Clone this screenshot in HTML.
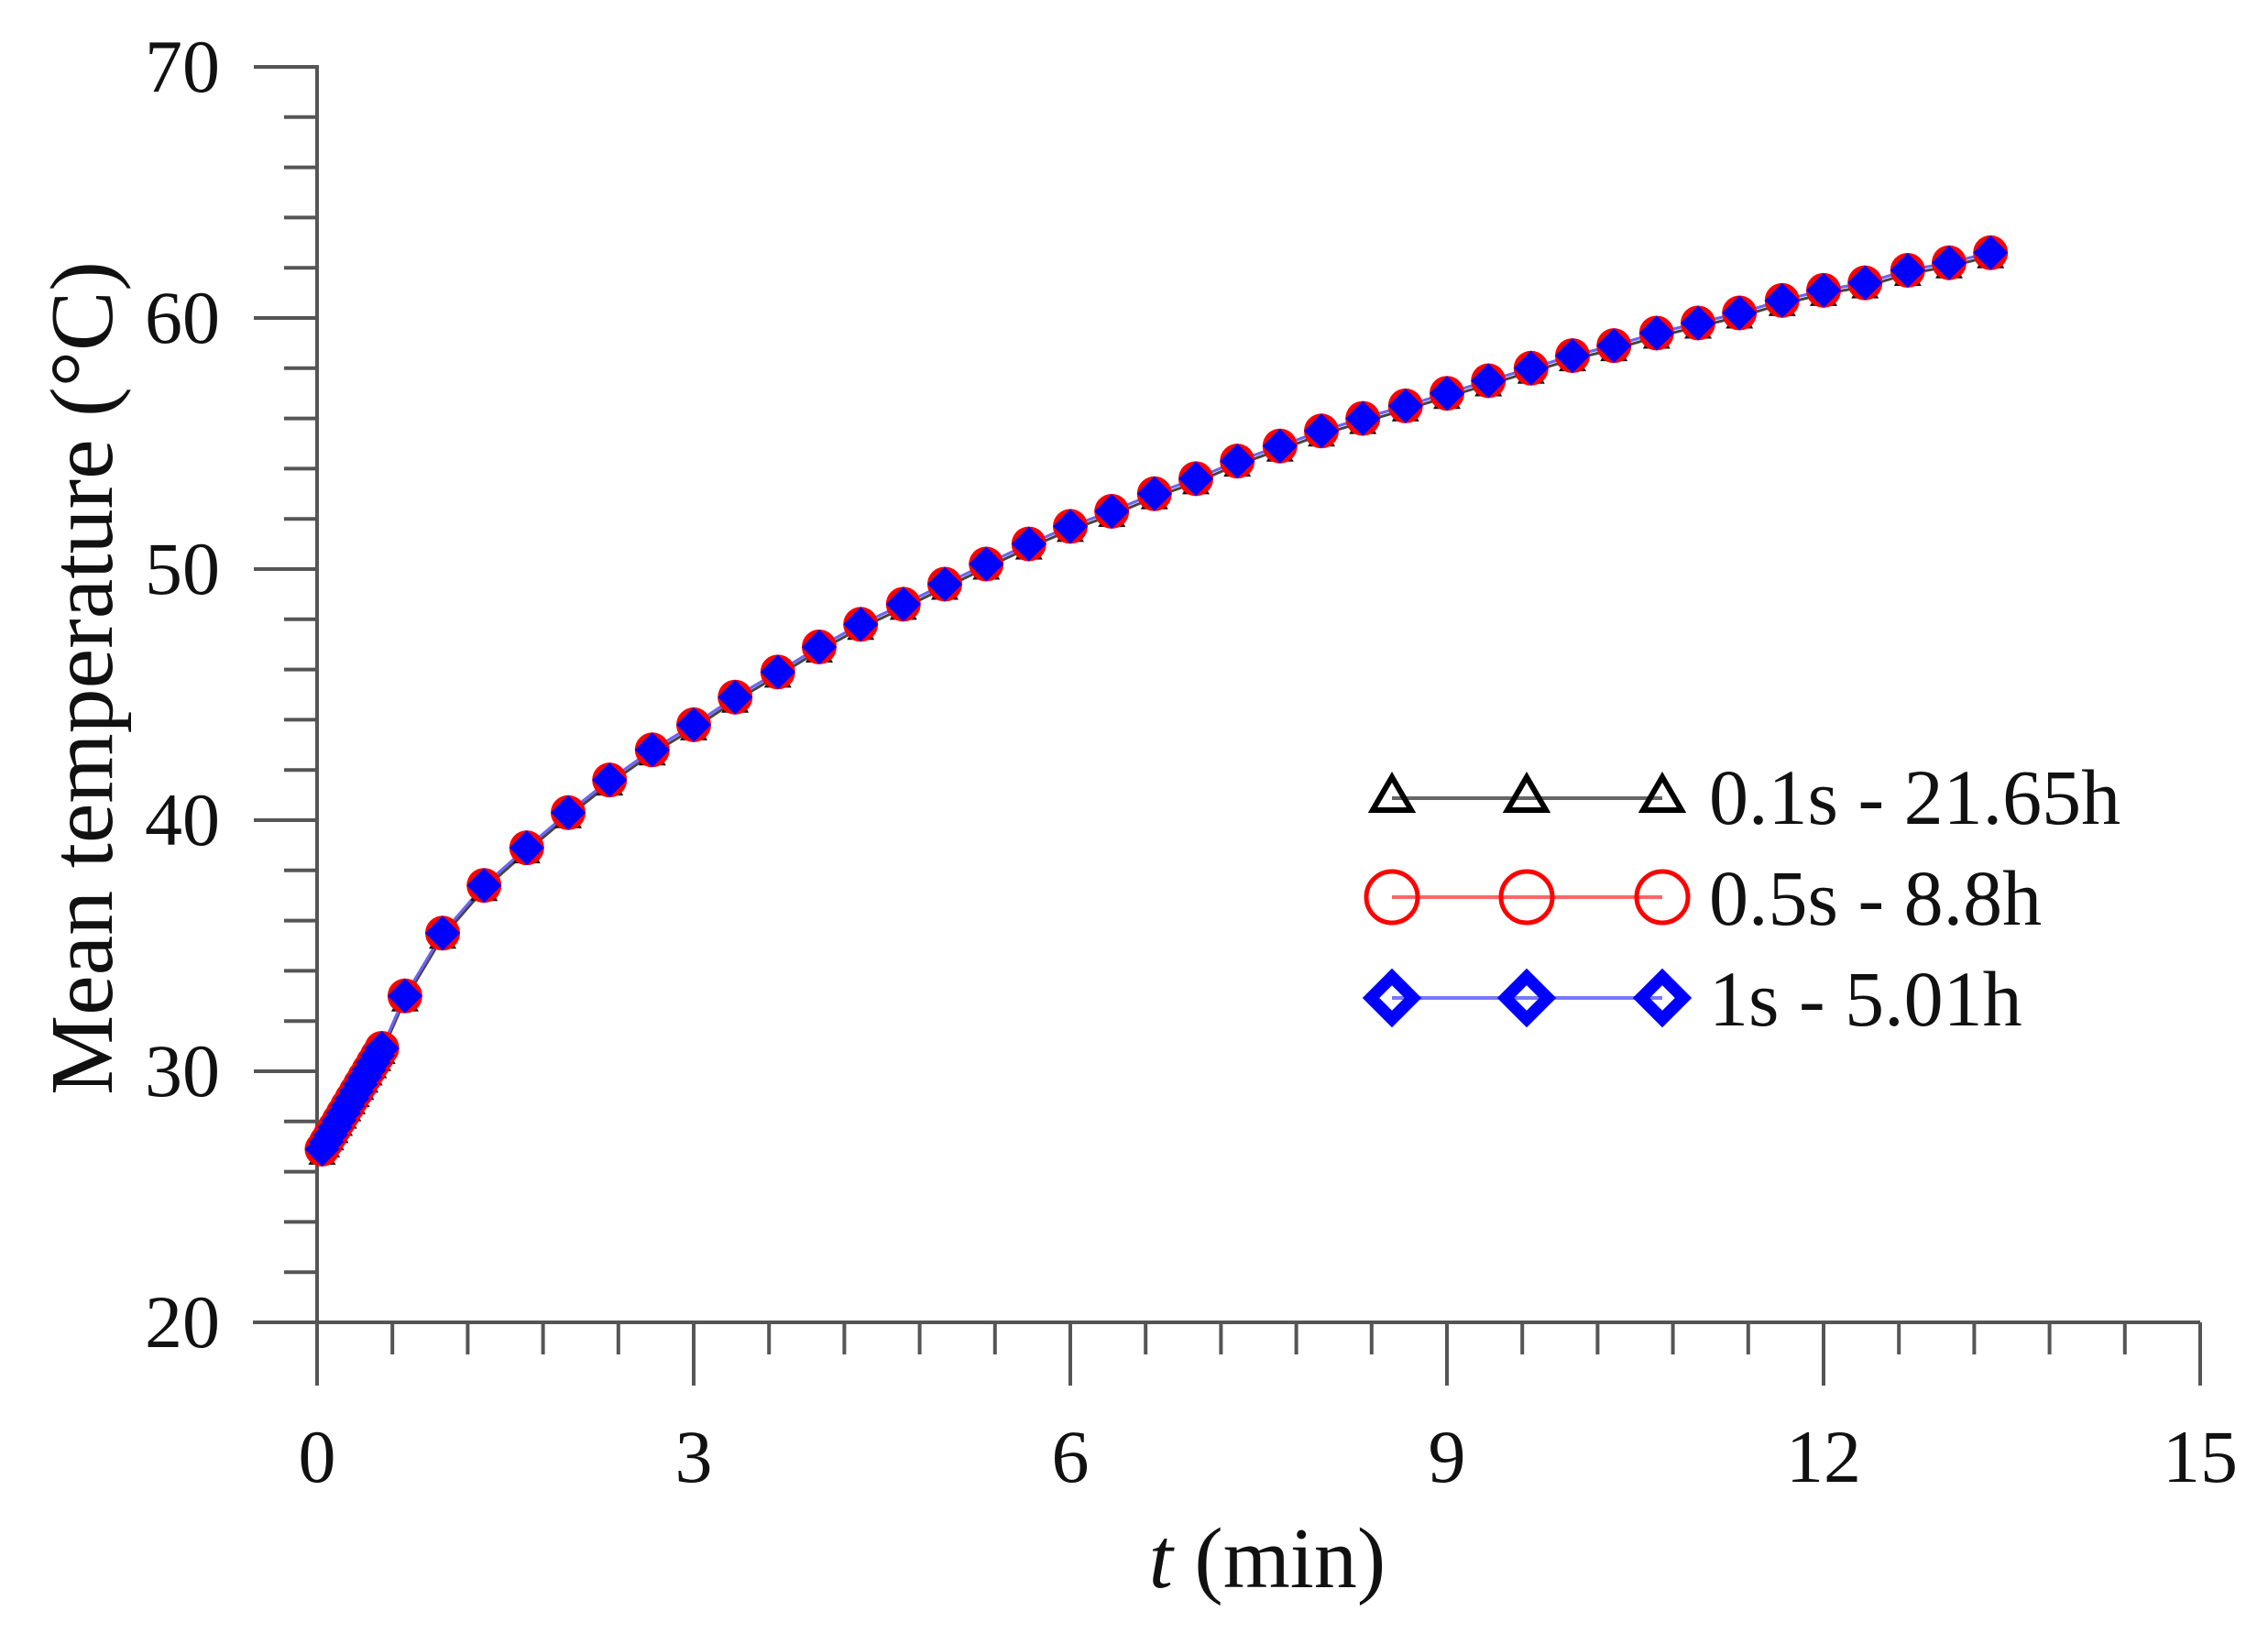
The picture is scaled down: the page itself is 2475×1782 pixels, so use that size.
<!DOCTYPE html>
<html><head><meta charset="utf-8"><style>
html,body{margin:0;padding:0;background:#fff;}
svg{display:block;}
text{font-family:"Liberation Serif",serif;fill:#111;}
</style></head><body>
<svg id="s" width="2475" height="1782" viewBox="0 0 2475 1782" xmlns="http://www.w3.org/2000/svg">
<g stroke="#555" stroke-width="4" fill="none">
<line x1="346" y1="71" x2="346" y2="1508"/>
<line x1="276" y1="1443" x2="2401" y2="1443"/>
</g>
<g id="ticks" stroke="#555" stroke-width="4"></g>
<g font-size="82" text-anchor="end">
<text x="240" y="100">70</text><text x="240" y="374">60</text><text x="240" y="648">50</text>
<text x="240" y="922">40</text><text x="240" y="1196">30</text><text x="240" y="1470">20</text>
</g>
<g font-size="82" text-anchor="middle">
<text x="346" y="1617">0</text><text x="757" y="1617">3</text><text x="1168" y="1617">6</text>
<text x="1579" y="1617">9</text><text x="1990" y="1617">12</text><text x="2401" y="1617">15</text>
</g>
<text x="1383" y="1732" font-size="94" text-anchor="middle"><tspan font-style="italic">t</tspan> (min)</text>
<text transform="translate(122,740) rotate(-90)" font-size="98" text-anchor="middle">Mean temperature (°C)</text>
<g id="data"></g>
<g id="leg"></g>
<g font-size="86">
<text x="1865" y="899">0.1s - 21.65h</text>
<text x="1865" y="1009">0.5s - 8.8h</text>
<text x="1865" y="1119">1s - 5.01h</text>
</g>
</svg>
<script>
var NS="http://www.w3.org/2000/svg";
function el(p,n,a){var e=document.createElementNS(NS,n);for(var k in a)e.setAttribute(k,a[k]);p.appendChild(e);return e;}
var tk=document.getElementById('ticks');
function X(t){return 346+t*137;} function Y(T){return 1443-(T-20)*27.4;}
for(var v=20;v<=70;v+=2){var maj=(v%10==0);el(tk,'line',{x1:346-(maj?69:36),x2:346,y1:Y(v),y2:Y(v)});}
for(var i=0;i<=25;i++){var t=i*0.6;var maj=(i%5==0);el(tk,'line',{x1:X(t),x2:X(t),y1:1443,y2:1443+(maj?69:35)});}
var pts=[[0.7,33],[1,35.5],[1.33,37.4],[1.67,38.9],[2,40.3],[2.33,41.6],[2.67,42.8],[3,43.8],[3.33,44.9],[3.67,45.9],[4,46.9],[4.33,47.8],[4.67,48.6],[5,49.4],[5.33,50.2],[5.67,51],[6,51.7],[6.33,52.3],[6.67,53],[7,53.6],[7.33,54.3],[7.67,54.9],[8,55.5],[8.33,56],[8.67,56.5],[9,57],[9.33,57.5],[9.67,58],[10,58.5],[10.33,58.9],[10.67,59.4],[11,59.8],[11.33,60.2],[11.67,60.7],[12,61.1],[12.33,61.4],[12.67,61.9],[13,62.2],[13.33,62.6]];
var early=[];for(var t=0.04;t<=0.55;t+=0.034){early.push([t,26.9+(t-0.04)/0.51*4.3]);}
var all=early.concat(pts);
var d=document.getElementById('data');
var poly=all.map(function(p){return X(p[0])+','+Y(p[1]);}).join(' ');
el(d,'polyline',{points:all.map(function(p){return X(p[0])+','+(Y(p[1])+4);}).join(' '),fill:'none',stroke:'#444','stroke-width':3});
el(d,'polyline',{points:poly,fill:'none',stroke:'#f44','stroke-width':3});
el(d,'polyline',{points:poly,fill:'none',stroke:'#66f','stroke-width':3});
all.forEach(function(p){var x=X(p[0]),y=Y(p[1])+6;el(d,'polygon',{points:(x-15)+','+(y+11)+' '+(x+15)+','+(y+11)+' '+x+','+(y-15),fill:'#111'});});
all.forEach(function(p){el(d,'circle',{cx:X(p[0]),cy:Y(p[1]),r:19,fill:'#f00'});});
all.forEach(function(p){var x=X(p[0]),y=Y(p[1]);el(d,'polygon',{points:x+','+(y-19)+' '+(x+19)+','+y+' '+x+','+(y+19)+' '+(x-19)+','+y,fill:'#00f'});});
var lg=document.getElementById('leg');var xs=[1519,1666,1814];
el(lg,'line',{x1:1519,x2:1814,y1:871,y2:871,stroke:'#666','stroke-width':4});
el(lg,'line',{x1:1519,x2:1814,y1:979,y2:979,stroke:'#f66','stroke-width':4});
el(lg,'line',{x1:1519,x2:1814,y1:1089,y2:1089,stroke:'#77f','stroke-width':4});
xs.forEach(function(x){
el(lg,'polygon',{points:(x-21)+','+884+' '+(x+21)+','+884+' '+x+','+848,fill:'none',stroke:'#000','stroke-width':6});
el(lg,'circle',{cx:x,cy:979,r:28,fill:'none',stroke:'#f00','stroke-width':5});
el(lg,'polygon',{points:x+','+1066+' '+(x+23)+','+1089+' '+x+','+1112+' '+(x-23)+','+1089,fill:'none',stroke:'#00f','stroke-width':13});
});
</script>
</body></html>
